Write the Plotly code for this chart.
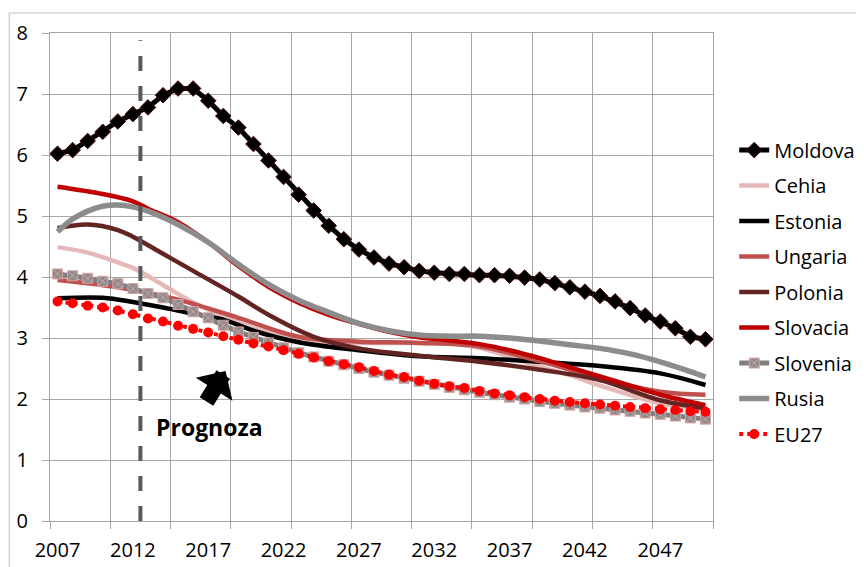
import plotly.graph_objects as go

# ---------------- data ----------------
years = list(range(2007, 2051))

moldova = [6.02, 6.08, 6.23, 6.38, 6.55, 6.67, 6.78, 6.98, 7.09, 7.09,
           6.89, 6.64, 6.45, 6.18, 5.91, 5.64, 5.35, 5.09, 4.84, 4.62,
           4.45, 4.32, 4.22, 4.16, 4.10, 4.07, 4.05, 4.05, 4.03, 4.03,
           4.02, 3.99, 3.96, 3.90, 3.83, 3.76, 3.69, 3.60, 3.49, 3.37,
           3.27, 3.16, 3.02, 2.98]

eu27 = [3.60, 3.57, 3.53, 3.50, 3.45, 3.39, 3.32, 3.27, 3.20, 3.15,
        3.09, 3.03, 2.97, 2.91, 2.86, 2.80, 2.74, 2.68, 2.62, 2.57,
        2.52, 2.46, 2.40, 2.36, 2.30, 2.25, 2.21, 2.18, 2.13, 2.09,
        2.06, 2.03, 2.00, 1.97, 1.95, 1.93, 1.91, 1.89, 1.87, 1.85,
        1.83, 1.82, 1.80, 1.79]

slovenia = [4.05, 4.02, 3.98, 3.93, 3.89, 3.81, 3.73, 3.66, 3.55, 3.43,
            3.33, 3.21, 3.10, 3.01, 2.92, 2.84, 2.76, 2.69, 2.62, 2.56,
            2.50, 2.44, 2.39, 2.34, 2.29, 2.24, 2.19, 2.15, 2.11, 2.07,
            2.03, 2.00, 1.96, 1.93, 1.90, 1.87, 1.85, 1.82, 1.80, 1.77,
            1.75, 1.72, 1.69, 1.67]

cehia_years = [2007, 2009, 2011, 2012, 2014, 2016, 2018, 2020, 2023, 2027,
               2031, 2033, 2035, 2039, 2041, 2043, 2047, 2050]
cehia = [4.49, 4.40, 4.24, 4.15, 3.87, 3.58, 3.36, 3.16, 2.97, 2.92,
         2.92, 2.91, 2.84, 2.53, 2.39, 2.22, 1.93, 1.83]

estonia_years = [2007, 2010, 2012, 2014, 2016, 2018, 2020, 2023, 2027, 2031,
                 2035, 2039, 2043, 2047, 2050]
estonia = [3.65, 3.66, 3.59, 3.50, 3.40, 3.30, 3.12, 2.93, 2.80, 2.70,
           2.67, 2.61, 2.54, 2.42, 2.23]

ungaria_years = [2007, 2011, 2015, 2019, 2023, 2027, 2031, 2035, 2039, 2043,
                 2047, 2050]
ungaria = [3.95, 3.83, 3.63, 3.33, 3.02, 2.94, 2.92, 2.86, 2.62, 2.34,
           2.12, 2.07]

polonia_years = [2007, 2009, 2011, 2012, 2014, 2016, 2019, 2021, 2024, 2027,
                 2031, 2035, 2039, 2043, 2047, 2050]
polonia = [4.80, 4.86, 4.77, 4.66, 4.38, 4.10, 3.68, 3.38, 3.02, 2.83,
           2.71, 2.61, 2.48, 2.31, 1.98, 1.85]

slovacia_years = [2007, 2010, 2012, 2013, 2015, 2017, 2019, 2021, 2023, 2025,
                  2027, 2029, 2031, 2033, 2035, 2037, 2039, 2041, 2043, 2045,
                  2047, 2050]
slovacia = [5.48, 5.36, 5.24, 5.12, 4.90, 4.57, 4.18, 3.84, 3.58, 3.38,
            3.23, 3.10, 3.01, 2.96, 2.90, 2.80, 2.67, 2.52, 2.37, 2.22,
            2.07, 1.90]

rusia_years = [2007, 2008, 2009, 2010, 2011, 2012, 2013, 2015, 2017, 2019,
               2021, 2023, 2025, 2027, 2029, 2031, 2033, 2035, 2037, 2039,
               2041, 2043, 2045, 2047, 2049, 2050]
rusia = [4.74, 4.95, 5.08, 5.16, 5.18, 5.15, 5.08, 4.86, 4.57, 4.21,
         3.88, 3.62, 3.42, 3.24, 3.12, 3.05, 3.03, 3.03, 3.00, 2.95,
         2.89, 2.83, 2.74, 2.61, 2.45, 2.36]

x_tick_labels = [2007, 2012, 2017, 2022, 2027, 2032, 2037, 2042, 2047]
forecast_start = 2012.5
annotation_text = "Prognoza"

# ---------------- figure ----------------
FONT = "Open Sans"
fig = go.Figure()

fig.add_trace(go.Scatter(
    x=years, y=moldova, name="Moldova", mode="lines+markers",
    line=dict(color="#000000", width=5),
    marker=dict(symbol="diamond", size=12, color="#000000",
                line=dict(color="#4a0a0a", width=1)),
    legendgroup="g1"))

smooth = [
    ("Cehia", cehia_years, cehia, "#E6B9B8", 4.5),
    ("Estonia", estonia_years, estonia, "#000000", 4.5),
    ("Ungaria", ungaria_years, ungaria, "#C0504D", 4.5),
    ("Polonia", polonia_years, polonia, "#632523", 4.5),
    ("Slovacia", slovacia_years, slovacia, "#C00000", 4.5),
]
for i, (nm, xs, ys, col, w) in enumerate(smooth):
    fig.add_trace(go.Scatter(
        x=xs, y=ys, name=nm, mode="lines",
        line=dict(color=col, width=w, shape="spline", smoothing=1.0),
        legendgroup="g%d" % (i + 2)))

fig.add_trace(go.Scatter(
    x=years, y=slovenia, name="Slovenia", mode="lines+markers",
    line=dict(color="#7F7F7F", width=5),
    marker=dict(symbol="square-x", size=10, color="#8C8C8C",
                line=dict(color="#D9A3A3", width=1)),
    legendgroup="g7"))

fig.add_trace(go.Scatter(
    x=rusia_years, y=rusia, name="Rusia", mode="lines",
    line=dict(color="#8C8C8C", width=5.5, shape="spline", smoothing=1.0),
    legendgroup="g8"))

fig.add_trace(go.Scatter(
    x=years, y=eu27, name="EU27", mode="lines+markers",
    line=dict(color="#FF0000", width=4, dash="dot"),
    marker=dict(symbol="circle", size=10, color="#FF0000",
                line=dict(color="#FF0000", width=0)),
    legendgroup="g9"))

GRID = "#A6A6A6"
fig.update_xaxes(
    range=[2006.5, 2050.5], tickmode="array", tickvals=x_tick_labels,
    ticks="", showgrid=False, zeroline=False,
    showline=True, linecolor=GRID, linewidth=1, mirror=True,
    tickfont=dict(family=FONT, size=20, color="#000000"),
    ticklabelstandoff=11,
    minor=dict(tickmode="linear", tick0=2006.5, dtick=4, showgrid=True,
               gridcolor=GRID, gridwidth=1, ticks="outside", ticklen=7,
               tickcolor=GRID),
    automargin=False)
fig.update_yaxes(
    range=[0, 8], dtick=1, tick0=0, showgrid=True, gridcolor=GRID,
    gridwidth=1, zeroline=False, showline=True, linecolor=GRID, linewidth=1,
    mirror=True, ticks="outside", ticklen=7, tickcolor=GRID,
    tickfont=dict(family=FONT, size=20, color="#000000"),
    ticklabelstandoff=10, automargin=False)

# forecast divider
fig.add_shape(type="line", xref="x", yref="y", x0=forecast_start,
              x1=forecast_start, y0=0, y1=7.88,
              line=dict(color="#595959", width=4, dash="15px,15px"),
              layer="above")

# outer chart border
fig.add_shape(type="rect", xref="paper", yref="paper",
              x0=-0.0615, x1=1.5, y0=-0.3, y1=1.041,
              line=dict(color="#BFBFBF", width=1), fillcolor="rgba(0,0,0,0)",
              layer="below")

fig.add_annotation(x=2017.1, y=1.54, xref="x", yref="y", text="<b>%s</b>" % annotation_text,
                   showarrow=False, font=dict(family=FONT, size=23, color="#000000"))
fig.add_annotation(x=2018.15, y=2.46, xref="x", yref="y", text="",
                   showarrow=True, arrowhead=1, arrowsize=0.45, arrowwidth=16,
                   arrowcolor="#000000", ax=-20, ay=32)

# the page body adds an 8px offset, so margins are shifted accordingly
fig.update_layout(
    width=864, height=567,
    margin=dict(l=42, r=155, t=25, b=54),
    paper_bgcolor="#FFFFFF", plot_bgcolor="#FFFFFF",
    font=dict(family=FONT, color="#000000"),
    showlegend=True,
    legend=dict(x=1.032, y=0.80, xanchor="left", yanchor="top",
                font=dict(family=FONT, size=20, color="#000000"),
                tracegroupgap=6.5, bgcolor="rgba(0,0,0,0)",
                itemwidth=30),
)

fig.write_html("out.html")
